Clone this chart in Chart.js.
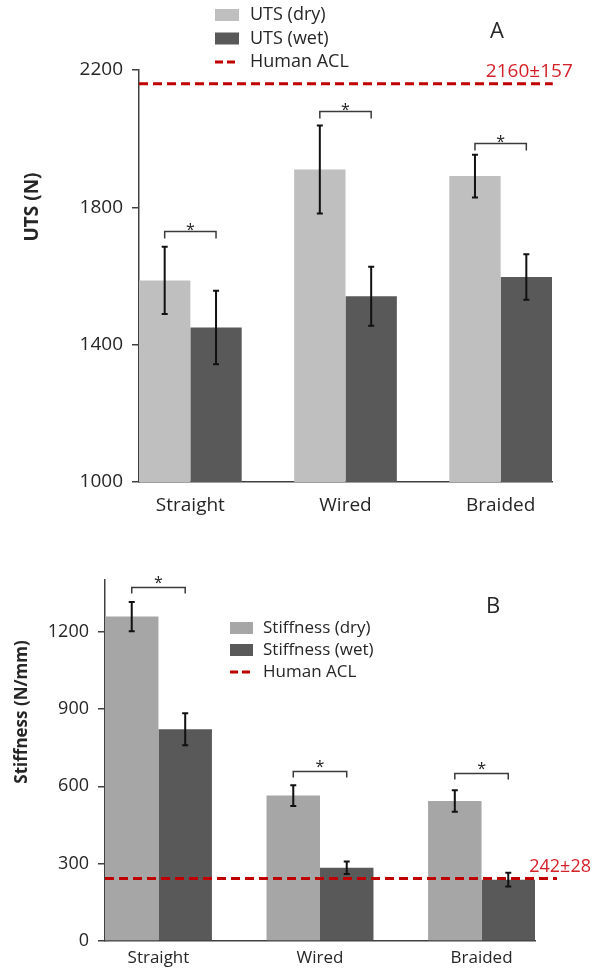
<!DOCTYPE html>
<html>
<head>
<meta charset="utf-8">
<script src="https://cdn.jsdelivr.net/npm/chart.js@4.4.1/dist/chart.umd.min.js"></script>
<style>
  html, body { margin: 0; padding: 0; background: #fff; }
  body { width: 593px; height: 970px; position: relative; overflow: hidden; }
  .box { position: absolute; left: 0; width: 593px; }
  #boxA { top: 0; height: 530px; }
  #boxB { top: 540px; height: 430px; }
</style>
</head>
<body>
<div class="box" id="boxA"><canvas id="chartA"></canvas></div>
<div class="box" id="boxB"><canvas id="chartB"></canvas></div>
<script>
Chart.defaults.font.family = "'Open Sans', sans-serif";
Chart.defaults.color = '#262626';

const categories = ['Straight', 'Wired', 'Braided'];

// panel A - ultimate tensile strength (N)
const utsDry = [1587, 1910, 1891];
const utsDryErr = [98, 128, 62];
const utsWet = [1450, 1541, 1597];
const utsWetErr = [107, 86, 66];
const utsAcl = 2160;
const utsAclText = '2160±157';
const utsBrackets = [1730, 2080, 1988];
const utsTicks = { min: 1000, max: 2200, step: 400 };

// panel B - stiffness (N/mm)
const stiffDry = [1258, 564, 543];
const stiffDryErr = [57, 40, 42];
const stiffWet = [821, 284, 238];
const stiffWetErr = [62, 24, 27];
const stiffAcl = 242;
const stiffAclText = '242±28';
const stiffBrackets = [1374, 660, 652];
const stiffTicks = { min: 0, max: 1400, step: 300 };

// groups sit flush against both ends of the x axis
const X_MIN = -0.331, X_MAX = 2.331;

const points = vals => vals.map((v, i) => ({ x: i, y: v }));

const extras = {
  id: 'extras',
  afterDatasetsDraw(chart, args, o) {
    const ctx = chart.ctx;
    const y = chart.scales.y;
    ctx.save();

    // error bars
    ctx.strokeStyle = '#111';
    ctx.lineWidth = 2;
    o.errors.forEach((errs, di) => {
      chart.getDatasetMeta(di).data.forEach((bar, i) => {
        const v = chart.data.datasets[di].data[i].y;
        const t = y.getPixelForValue(v + errs[i]);
        const b = y.getPixelForValue(v - errs[i]);
        ctx.beginPath();
        ctx.moveTo(bar.x, t); ctx.lineTo(bar.x, b);
        ctx.moveTo(bar.x - 3, t); ctx.lineTo(bar.x + 3, t);
        ctx.moveTo(bar.x - 3, b); ctx.lineTo(bar.x + 3, b);
        ctx.stroke();
      });
    });

    // significance brackets
    ctx.strokeStyle = '#3a3a3a';
    ctx.lineWidth = 1.5;
    ctx.fillStyle = '#222';
    ctx.font = "16px 'Open Sans'";
    ctx.textAlign = 'center';
    ctx.textBaseline = 'alphabetic';
    o.brackets.forEach((val, i) => {
      const x1 = chart.getDatasetMeta(0).data[i].x;
      const x2 = chart.getDatasetMeta(1).data[i].x;
      const py = Math.round(y.getPixelForValue(val)) + 0.5;
      ctx.beginPath();
      ctx.moveTo(x1, py + o.leg);
      ctx.lineTo(x1, py);
      ctx.lineTo(x2, py);
      ctx.lineTo(x2, py + o.leg);
      ctx.stroke();
      ctx.fillText('*', (x1 + x2) / 2, py + o.starDy);
    });

    // human ACL value label
    const aclMeta = chart.getDatasetMeta(2);
    const lineEnd = aclMeta.data[1].x;
    const lineY = aclMeta.data[1].y;
    ctx.fillStyle = '#d42027';
    ctx.font = o.aclFont;
    ctx.textAlign = 'right';
    ctx.textBaseline = 'middle';
    ctx.fillText(o.aclText, lineEnd + o.aclDx, lineY - 12);
    ctx.restore();
  },
  afterDraw(chart, args, o) {
    const ctx = chart.ctx;
    ctx.save();

    // legend
    const lg = o.legend;
    ctx.font = lg.font;
    ctx.textAlign = 'left';
    ctx.textBaseline = 'middle';
    chart.data.datasets.forEach((ds, i) => {
      const cy = lg.y + i * lg.row;
      if (ds.type === 'line') {
        ctx.strokeStyle = ds.borderColor;
        ctx.lineWidth = 3;
        ctx.setLineDash([8, 4]);
        ctx.beginPath();
        ctx.moveTo(lg.x, cy);
        ctx.lineTo(lg.x + lg.w, cy);
        ctx.stroke();
        ctx.setLineDash([]);
      } else {
        ctx.fillStyle = ds.backgroundColor;
        ctx.fillRect(lg.x, cy - 6, lg.w, 12);
      }
      ctx.fillStyle = '#262626';
      ctx.fillText(ds.label, lg.textX, cy);
    });

    // panel letter
    ctx.font = "22px 'Open Sans'";
    ctx.textAlign = 'center';
    ctx.fillText(o.panel.text, o.panel.x, o.panel.y);

    // y axis title
    ctx.translate(o.title.x, o.title.y);
    ctx.rotate(-Math.PI / 2);
    ctx.font = `bold ${o.title.size}px 'Open Sans'`;
    ctx.fillText(o.title.text, 0, 0);
    ctx.restore();
  }
};

function buildChart(canvasId, p) {
  return new Chart(document.getElementById(canvasId), {
    type: 'bar',
    data: {
      datasets: [
        { label: p.labels[0], data: points(p.dry), backgroundColor: p.dryColor,
          barPercentage: 1, categoryPercentage: 0.662, order: 2 },
        { label: p.labels[1], data: points(p.wet), backgroundColor: '#595959',
          barPercentage: 1, categoryPercentage: 0.662, order: 2 },
        { type: 'line', label: 'Human ACL',
          data: [{ x: X_MIN, y: p.acl }, { x: X_MAX + p.aclRun, y: p.acl }],
          borderColor: '#c00000', borderWidth: 3, borderDash: [9, 5],
          pointRadius: 0, clip: false, order: 1 }
      ]
    },
    options: {
      animation: false,
      responsive: true,
      maintainAspectRatio: false,
      layout: { padding: p.padding },
      scales: {
        x: {
          type: 'linear', min: X_MIN, max: X_MAX, offset: false,
          grid: { display: false, drawTicks: false },
          border: { color: '#404040', width: 1.5 },
          ticks: {
            stepSize: 1, includeBounds: false, padding: p.xPad,
            font: { size: p.xFont }, color: '#262626',
            callback: v => categories[v]
          },
          afterFit: s => { s.height = p.xHeight; }
        },
        y: {
          min: p.ticks.min, max: p.ticks.max,
          grid: { drawOnChartArea: false, tickLength: 7, color: '#404040', lineWidth: 1.5 },
          border: { color: '#404040', width: 1.5 },
          ticks: {
            stepSize: p.ticks.step, includeBounds: false, padding: 9,
            font: { size: p.yFont }, color: '#262626',
            callback: v => String(v)
          },
          afterFit: s => { s.width = p.yWidth; }
        }
      },
      plugins: {
        legend: { display: false },
        tooltip: { enabled: false },
        extras: p.extras
      }
    },
    plugins: [extras]
  });
}

buildChart('chartA', {
  labels: ['UTS (dry)', 'UTS (wet)'],
  dry: utsDry, wet: utsWet, acl: utsAcl, aclRun: 0.005,
  dryColor: '#bfbfbf',
  ticks: utsTicks,
  padding: { top: 70, right: 41, left: 0, bottom: 0 },
  yWidth: 139, xHeight: 48, xPad: 12, xFont: 19, yFont: 19,
  extras: {
    errors: [utsDryErr, utsWetErr],
    brackets: utsBrackets, leg: 7, starDy: 3,
    aclText: utsAclText, aclFont: "19px 'Open Sans'", aclDx: 20,
    legend: { x: 215, w: 24, textX: 250, y: 15, row: 23.5, font: "18px 'Open Sans'" },
    panel: { text: 'A', x: 497, y: 32 },
    title: { text: 'UTS (N)', x: 33, y: 207, size: 19 }
  }
});

buildChart('chartB', {
  labels: ['Stiffness (dry)', 'Stiffness (wet)'],
  dry: stiffDry, wet: stiffWet, acl: stiffAcl, aclRun: 0.136,
  dryColor: '#a6a6a6',
  ticks: stiffTicks,
  padding: { top: 40, right: 58, left: 0, bottom: 0 },
  yWidth: 105, xHeight: 29, xPad: 7, xFont: 17, yFont: 18,
  extras: {
    errors: [stiffDryErr, stiffWetErr],
    brackets: stiffBrackets, leg: 6, starDy: 0,
    aclText: stiffAclText, aclFont: "18px 'Open Sans'", aclDx: 34,
    legend: { x: 230, w: 23, textX: 263, y: 88, row: 22, font: "17px 'Open Sans'" },
    panel: { text: 'B', x: 493, y: 67 },
    title: { text: 'Stiffness (N/mm)', x: 22, y: 172, size: 17 }
  }
});
</script>
</body>
</html>
